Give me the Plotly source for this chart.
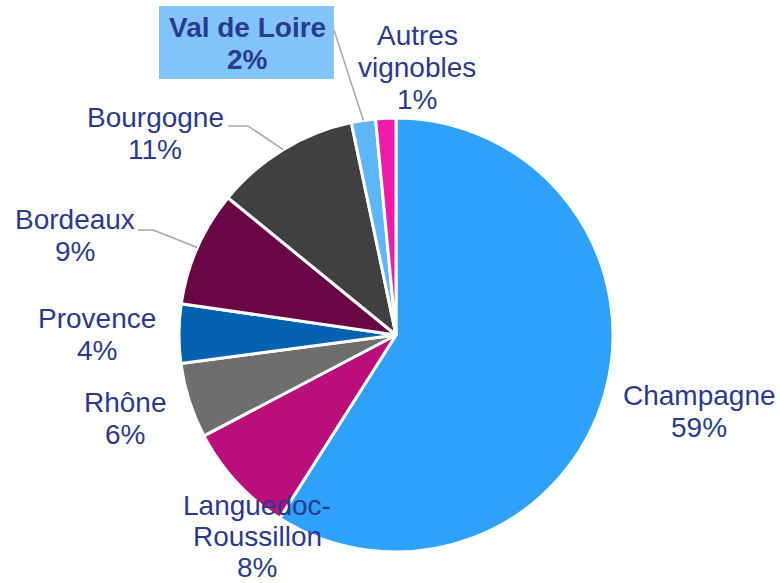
import math
import plotly.graph_objects as go

regions = ["Champagne", "Languedoc-Roussillon", "Rhône", "Provence", "Bordeaux",
           "Bourgogne", "Val de Loire", "Autres vignobles"]
shares = [59.0, 8.3, 5.6, 4.4, 8.6, 10.8, 1.8, 1.5]
colors = ["#2EA2FA", "#BA0E7B", "#6E6E6E", "#0462B0", "#6B0646",
          "#404040", "#5CB6F8", "#F01AA8"]
label_lines = [["Champagne", "59%"], ["Languedoc-", "Roussillon", "8%"], ["Rhône", "6%"],
               ["Provence", "4%"], ["Bordeaux", "9%"], ["Bourgogne", "11%"],
               ["Val de Loire", "2%"], ["Autres", "vignobles", "1%"]]

W, H = 780, 583
CX, CY, R = 396, 335, 217

def px(x, y):
    return x / W, 1 - y / H

# label centre x, first-line baseline and line spacing (pixels)
label_pos = [(699, 405, 32), (257, 515, 31), (125, 412, 32), (97, 328, 32), (75, 229, 32),
             (155, 127, 32), (247, 37, 32), (417, 45, 32)]
FS = 28

x0d, y1d = px(CX - R, CY - R)
x1d, y0d = px(CX + R, CY + R)
fig = go.Figure(go.Pie(
    labels=regions, values=shares, sort=False, direction="clockwise", rotation=0,
    marker=dict(colors=colors, line=dict(color="white", width=3)),
    textinfo="none", hoverinfo="label+percent", showlegend=False,
    domain=dict(x=[x0d, x1d], y=[y0d, y1d]),
))

TXT = "#2B3A91"
# background box of the highlighted label
bx0, by0 = px(159, 6)
bx1, by1 = px(334, 79)
fig.add_shape(type="rect", xref="paper", yref="paper", x0=bx0, y0=by0, x1=bx1, y1=by1,
              fillcolor="#80C4FA", line=dict(width=0), layer="below")

for i, (lines, (x, base, step)) in enumerate(zip(label_lines, label_pos)):
    bold = regions[i] == "Val de Loire"
    for k, ln in enumerate(lines):
        ax, ay = px(x, base + k * step - 0.3465 * FS)
        t = f"<b>{ln}</b>" if bold else ln
        fig.add_annotation(x=ax, y=ay, xref="paper", yref="paper", text=t, showarrow=False,
                           font=dict(family="Liberation Sans, Arial", size=FS, color=TXT),
                           align="center", xanchor="center", yanchor="middle", borderpad=0)

# leader lines: from label elbow to slice mid-angle on the rim
total = sum(shares)
cum = 0
mids = []
for v in shares:
    mids.append((cum + v / 2) / total * 2 * math.pi)
    cum += v

def rim(i):
    a = mids[i]
    return CX + R * math.sin(a), CY - R * math.cos(a)

leaders = {5: [(228, 126), (248, 126)], 4: [(138, 230), (153, 230)], 6: [(334, 30)]}
for i, pts in leaders.items():
    pts = pts + [rim(i)]
    for (xa, ya), (xb, yb) in zip(pts[:-1], pts[1:]):
        a0, b0 = px(xa, ya)
        a1, b1 = px(xb, yb)
        fig.add_shape(type="line", xref="paper", yref="paper", x0=a0, y0=b0, x1=a1, y1=b1,
                      line=dict(color="#A6A6A6", width=1.5))

fig.update_layout(width=W, height=H, margin=dict(l=0, r=0, t=0, b=0),
                  paper_bgcolor="white", plot_bgcolor="white")
fig.write_html("out.html", config={"displayModeBar": False},
               post_script="document.body.style.margin='0';document.body.style.overflow='hidden';")
